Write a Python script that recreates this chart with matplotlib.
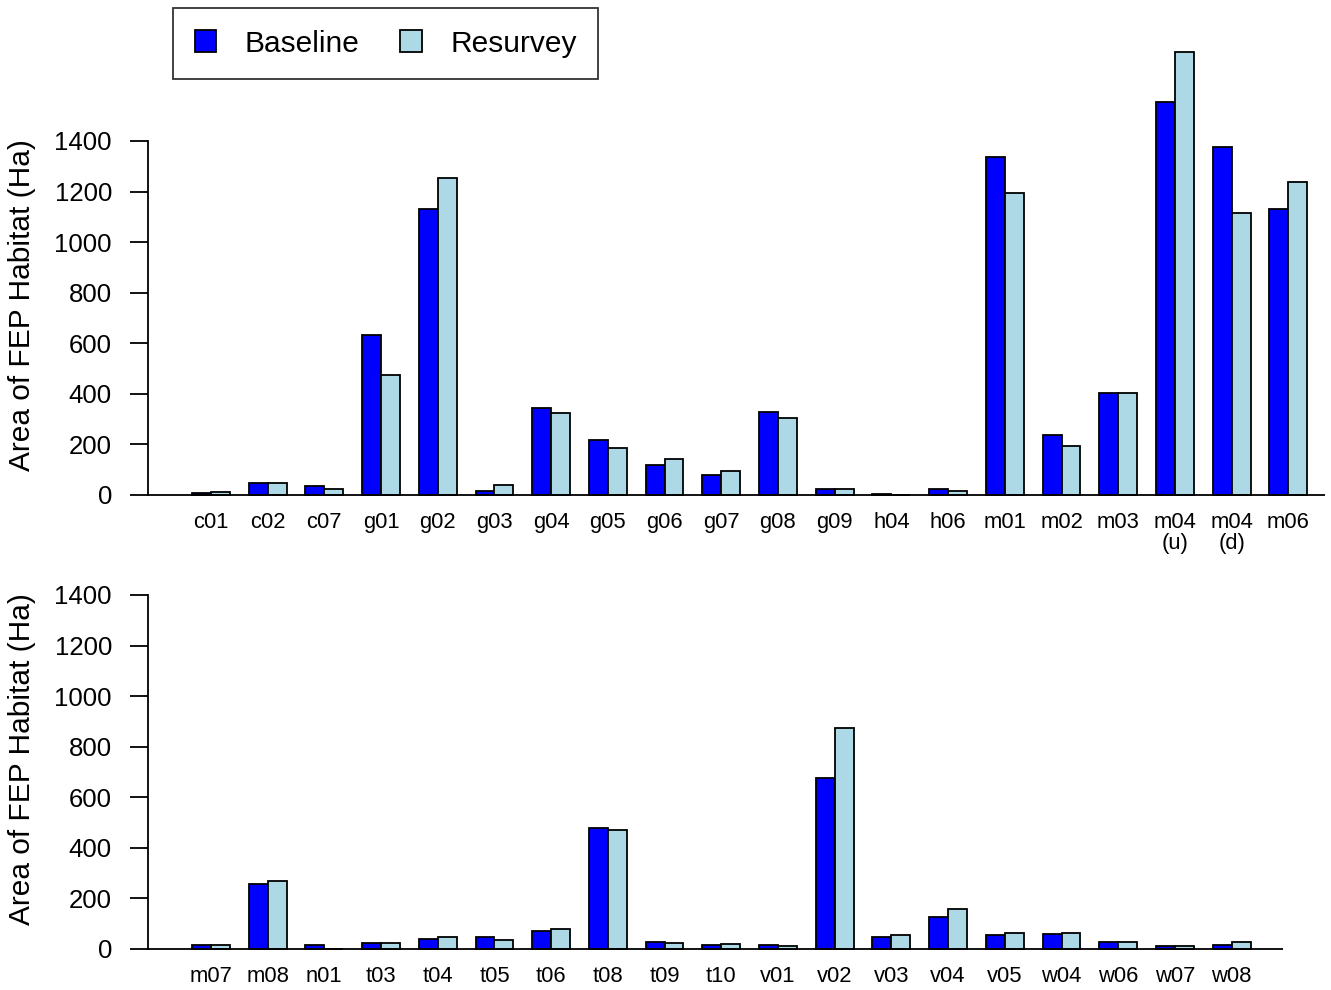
import numpy as np
import matplotlib
matplotlib.use("Agg")
from matplotlib import pyplot as plt
from matplotlib.patches import Patch

plt.rcParams['font.family'] = ['Liberation Sans', 'DejaVu Sans']

# top panel
sites_top = ["c01", "c02", "c07", "g01", "g02", "g03", "g04", "g05", "g06", "g07",
             "g08", "g09", "h04", "h06", "m01", "m02", "m03", "m04\n(u)", "m04\n(d)", "m06"]
base_top = [8, 46, 36, 633, 1131, 17, 344, 217, 117, 79,
            327, 24, 5, 24, 1337, 237, 405, 1554, 1375, 1130]
resv_top = [13, 48, 23, 474, 1254, 40, 325, 187, 142, 95,
            304, 24, 0, 16, 1194, 194, 405, 1751, 1115, 1237]

# bottom panel
sites_bot = ["m07", "m08", "n01", "t03", "t04", "t05", "t06", "t08", "t09", "t10",
             "v01", "v02", "v03", "v04", "v05", "w04", "w06", "w07", "w08"]
base_bot = [16, 258, 16, 24, 41, 46, 72, 478, 26, 15,
            15, 676, 46, 127, 57, 59, 26, 11, 15]
resv_bot = [16, 270, 0, 23, 46, 34, 79, 470, 23, 18,
            11, 874, 54, 159, 65, 62, 26, 11, 29]

BLUE = "#0000FF"
LIGHT = "#ADD8E6"
W, H = 1331, 990

fig = plt.figure(figsize=(W / 100, H / 100), dpi=100)


def panel(bottom_px, sites, base, resv, xend):
	ax = fig.add_axes([148 / W, (H - bottom_px) / H, 1177 / W, 354 / H])
	n = len(sites)
	centres = 3 * np.arange(n) + 2
	ax.bar(centres - 0.5, base, width=1, color=BLUE, edgecolor="black", linewidth=1.3, clip_on=False, zorder=3)
	ax.bar(centres + 0.5, resv, width=1, color=LIGHT, edgecolor="black", linewidth=1.3, clip_on=False, zorder=3)
	ax.hlines(0, -1.33, xend, color="black", linewidth=1.3, clip_on=False, zorder=4)
	ax.set_xlim(-1.33, 60.94)
	ax.set_ylim(0, 1400)
	for s in ["top", "right", "bottom"]:
		ax.spines[s].set_visible(False)
	ax.spines["left"].set_linewidth(1.3)
	ax.set_yticks(np.arange(0, 1401, 200))
	ax.tick_params(axis="y", length=13, width=1.3, labelsize=18.5, pad=13)
	ax.set_xticks(centres)
	ax.set_xticklabels(sites, fontsize=15.8, linespacing=1.05)
	ax.tick_params(axis="x", length=0, pad=12)
	ax.text(-126 / 1177, 0.537, "Area of FEP Habitat (Ha)", transform=ax.transAxes,
		rotation=90, ha="center", va="center", fontsize=21.5)
	return ax


panel(495, sites_top, base_top, resv_top, 60.94)
panel(949, sites_bot, base_bot, resv_bot, 58.72)

handles = [Patch(facecolor=BLUE, edgecolor="black", linewidth=1.3),
	Patch(facecolor=LIGHT, edgecolor="black", linewidth=1.3)]
leg = fig.legend(handles, ["Baseline", "Resurvey"], loc="upper left",
	bbox_to_anchor=(173 / W, 1 - 8 / H), ncol=2, fontsize=21.5, frameon=True,
	fancybox=False, edgecolor="black", handlelength=0.73, handleheight=0.73,
	handletextpad=0.95, columnspacing=1.35, borderpad=0.72, borderaxespad=0)
leg.get_frame().set_linewidth(1.3)

fig.savefig("out.png", dpi=100)
